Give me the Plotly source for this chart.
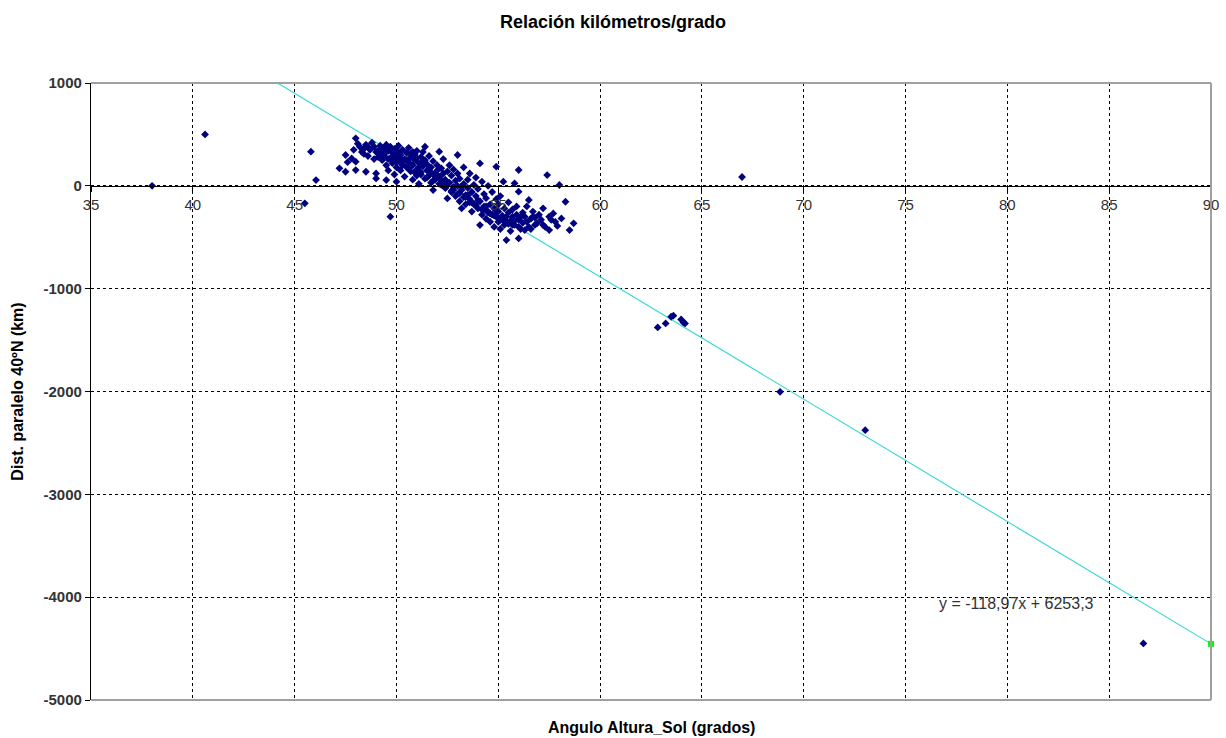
import plotly.graph_objects as go

# ---- data ----
outlier_x = [38.0, 40.6, 45.5, 45.8, 46.05, 66.97, 62.83, 63.22, 63.49, 63.6, 63.98, 64.09, 64.17, 68.84, 73.02, 86.68]
outlier_y = [0, 500, -170, 332, 56, 86, -1377, -1338, -1273, -1263, -1299, -1328, -1338, -2003, -2376, -4450]

cluster_x = [47.2, 47.5, 47.5, 47.8, 48.0, 48.0, 48.0, 48.2, 48.3, 48.5, 48.5, 48.6, 48.7, 48.8, 48.9,
             49.0, 49.0, 49.0, 49.1, 49.2, 49.3, 49.3, 49.4, 49.5, 49.5, 49.5, 49.6, 49.6, 49.7, 49.7,
             49.7, 49.8, 49.8, 49.9, 49.9, 50.0, 50.0, 50.0, 50.0, 50.1, 50.1, 50.2, 50.2, 50.3, 50.3,
             50.4, 50.4, 50.5, 50.5, 50.6, 50.6, 50.7, 50.7, 50.8, 50.8, 50.9, 50.9, 51.0, 51.0, 51.0,
             51.1, 51.1, 51.2, 51.2, 51.3, 51.3, 51.4, 51.4, 51.5, 51.5, 51.6, 51.6, 51.7, 51.7, 51.8,
             51.8, 51.9, 51.9, 52.0, 52.0, 52.1, 52.1, 52.2, 52.2, 52.3, 52.3, 52.4, 52.4, 52.5, 52.5,
             52.6, 52.6, 52.7, 52.7, 52.8, 52.8, 52.9, 52.9, 53.0, 53.0, 53.0, 53.1, 53.1, 53.2, 53.2,
             53.3, 53.3, 53.4, 53.4, 53.5, 53.5, 53.6, 53.6, 53.7, 53.7, 53.8, 53.8, 53.9, 53.9, 54.0,
             54.0, 54.1, 54.1, 54.1, 54.2, 54.2, 54.3, 54.3, 54.4, 54.4, 54.5, 54.5, 54.6, 54.6, 54.7,
             54.7, 54.8, 54.8, 54.9, 54.9, 54.9, 55.0, 55.0, 55.0, 55.1, 55.1, 55.2, 55.25, 55.3, 55.3,
             55.4, 55.4, 55.5, 55.5, 55.6, 55.6, 55.7, 55.7, 55.8, 55.8, 55.9, 55.9, 56.0, 56.0, 56.0,
             56.0, 56.1, 56.2, 56.2, 56.3, 56.4, 56.5, 56.5, 56.6, 56.7, 56.7, 56.8, 56.9, 57.0, 57.1,
             57.2, 57.3, 57.4, 57.5, 57.5, 57.7, 57.8, 58.0, 58.1, 58.3, 58.5, 58.7,
             49.2, 49.4, 49.6, 49.8, 50.0, 50.3, 50.6, 50.9, 51.2, 51.5, 51.8, 52.1, 52.4, 52.7, 53.0,
             53.3, 53.6, 53.9, 54.2, 54.5, 54.8, 55.1, 55.4, 55.7, 56.0, 56.3, 48.4, 48.9, 51.4, 50.8,
             47.9, 48.1, 48.6, 49.1, 49.4, 49.9, 50.2, 50.5, 50.7, 51.1, 51.3, 51.6, 51.9, 52.2, 52.5,
             52.8, 53.1, 53.4, 53.7, 54.0, 54.3, 54.6, 54.9, 55.2, 55.5, 55.8, 56.1, 56.4, 56.8, 57.2,
             57.6, 47.6, 48.4, 49.3, 50.1, 51.0, 52.0, 53.2, 54.4, 55.3, 56.6, 57.9, 53.5, 52.3, 51.7]
cluster_y = [170, 137, 300, 267, 462, 235, 153, 380, 330, 137, 400, 290, 350, 420, 380,
             121, 72, 330, 280, 390, 250, 360, 310, 56, 400, 200, 340, 150, -300, 380,
             270, 220, 320, 360, 110, 40, 280, 180, 340, 240, 390, 300, 150, 210, 350,
             260, 90, 320, 180, 230, 370, 140, 280, 200, 60, 310, 250, 160, 100, 340,
             220, 20, 280, 130, 190, 330, 250, 70, 150, 210, 290, 100, 180, 30, -41,
             240, 120, 60, 200, 150, 332, 90, 10, 170, 120, 260, -20, 60, -122, 140,
             200, 30, -60, 100, 160, -10, 50, -100, 300, 120, 0, -150, 70, -219, -40,
             180, 20, -90, -180, 60, -20, -130, 120, -60, -250, 10, -180, -100, 80, -220,
             -30, 218, -382, -150, -280, 40, -80, -200, -320, -120, -250, 0, -180, -350, -60,
             -280, -220, -400, 186, -130, -300, -250, -350, -180, -420, -100, -290, 40, -220, -380,
             -527, -300, -160, -260, -340, -440, -230, -300, 24, -380, -280, -200, 154, -511, -57,
             -330, -420, -260, -360, -300, -200, -138, -400, -320, -300, -250, -380, -365, -280, -330,
             -219, -400, 105, -430, -300, -268, -350, 8, -317, -155, -430, -365,
             330, 290, 260, 250, 230, 200, 170, 130, 110, 80, 50, 20, -20, -50, -80,
             -110, -160, -190, -230, -260, -290, -330, -350, -380, -400, -430, 360, 260, 380, 330,
             350, 410, 380, 340, 370, 300, 260, 250, 310, 180, 240, 160, 90, 60, 20,
             -40, -70, -110, -160, -140, -230, -270, -240, -330, -370, -340, -300, -350, -310, -380,
             -330, 230, 310, 300, 320, 270, 100, -10, -200, -330, -420, -390, -90, 40, 130]

trend_slope = -118.97
trend_intercept = 6253.3
trend_x = [38, 90]
end_x = [90]

x_ticks = [35, 40, 45, 50, 55, 60, 65, 70, 75, 80, 85, 90]
y_ticks = [1000, 0, -1000, -2000, -3000, -4000, -5000]

trend_y = [trend_slope * v + trend_intercept for v in trend_x]
end_y = [trend_slope * v + trend_intercept for v in end_x]

FONT = "Liberation Sans, Arial, sans-serif"

fig = go.Figure()

fig.add_trace(go.Scatter(
    x=trend_x, y=trend_y, mode="lines",
    line=dict(color="#40D8D8", width=1.2), hoverinfo="skip", showlegend=False))

fig.add_trace(go.Scatter(
    x=cluster_x + outlier_x, y=cluster_y + outlier_y, mode="markers",
    marker=dict(symbol="diamond", size=6, color="#000080"), showlegend=False))

fig.add_trace(go.Scatter(
    x=end_x, y=end_y, mode="markers",
    marker=dict(symbol="square", size=6, color="#00FF00"), showlegend=False, cliponaxis=False))

fig.update_layout(
    width=1226, height=738,
    margin=dict(l=91, r=15, t=83, b=38, autoexpand=False),
    paper_bgcolor="white", plot_bgcolor="white",
    showlegend=False,
    title=dict(text="<b>Relación kilómetros/grado</b>", x=0.5, xanchor="center",
               y=0.97, yanchor="middle", font=dict(family=FONT, size=18, color="#000000")),
    font=dict(family=FONT),
)

fig.update_xaxes(
    range=[35, 90], tickvals=x_ticks, ticktext=[str(v) for v in x_ticks],
    anchor="free", position=5/6, automargin=False,
    showline=True, linecolor="#000000", linewidth=1.3,
    ticks="outside", ticklen=5, tickcolor="#000000",
    tickfont=dict(family=FONT, size=15, color="#333333"),
    showgrid=True, gridcolor="#000000", griddash="3px,3px", gridwidth=1,
    zeroline=False,
)
fig.update_yaxes(
    range=[-5000, 1000], tickvals=y_ticks, ticktext=["<b>%d</b>" % v for v in y_ticks],
    automargin=False,
    showline=True, linecolor="#000000", linewidth=1.3,
    ticks="outside", ticklen=5, tickcolor="#000000",
    tickfont=dict(family=FONT, size=15, color="#333333"),
    showgrid=True, gridcolor="#000000", griddash="3px,3px", gridwidth=1,
    zeroline=False,
    title=dict(text="<b>Dist. paralelo 40ºN (km)</b>", standoff=15,
               font=dict(family=FONT, size=16, color="#000000")),
)

# gray plot border (top, right, bottom)
fig.add_shape(type="line", xref="paper", yref="paper", x0=0, x1=1, y0=1, y1=1,
              line=dict(color="#a0a0a0", width=2), layer="above")
fig.add_shape(type="line", xref="paper", yref="paper", x0=1, x1=1, y0=0, y1=1,
              line=dict(color="#a0a0a0", width=2), layer="above")
fig.add_shape(type="line", xref="paper", yref="paper", x0=0, x1=1, y0=0, y1=0,
              line=dict(color="#a0a0a0", width=2), layer="above")

fig.add_annotation(
    text="<b>Angulo Altura_Sol (grados)</b>", xref="paper", yref="paper",
    x=0.5, y=-27/617, xanchor="center", yanchor="middle", showarrow=False,
    font=dict(family=FONT, size=16, color="#000000"))

fig.add_annotation(
    text="y = -118,97x + 6253,3", xref="x", yref="y",
    x=80.43, y=-4060, xanchor="center", yanchor="middle", showarrow=False,
    font=dict(family=FONT, size=16, color="#333333"))

fig.write_html("out.html", config={"displayModeBar": False},
               post_script="document.body.style.margin='0';document.body.style.overflow='hidden';")
